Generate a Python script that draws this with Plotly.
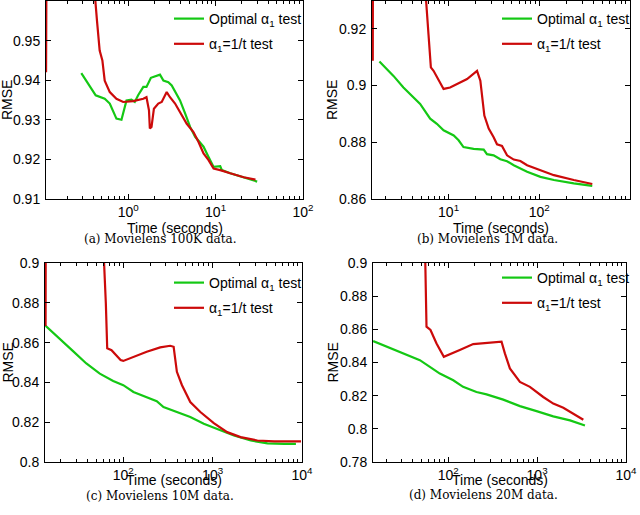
import plotly.graph_objects as go

# (a) Movielens 100K
a_opt_t = [0.291, 0.425, 0.539, 0.616, 0.734, 0.838, 0.957, 1.09, 1.19, 1.30, 1.49, 1.62, 1.82, 2.31, 2.53,
           2.88, 3.15, 3.59, 3.92, 4.48, 5.11, 5.84, 7.28, 8.31, 9.49, 11.3, 11.8, 14.7, 22.9, 29.9]
a_opt_rmse = [0.9418, 0.9362, 0.9353, 0.9341, 0.9303, 0.9300, 0.9349, 0.9351, 0.9345, 0.9362, 0.9383, 0.9383,
              0.9406, 0.9414, 0.9399, 0.9395, 0.9387, 0.9366, 0.9349, 0.9316, 0.9282, 0.9257, 0.9232, 0.9206,
              0.9181, 0.9183, 0.9173, 0.9165, 0.9152, 0.9144]
a_inv_t = [0.115, 0.117, 0.40, 0.421, 0.440, 0.472, 0.507, 0.539, 0.616, 0.734, 0.877, 1.14, 1.49, 1.62, 1.73,
           1.77, 1.85, 1.97, 2.21, 2.42, 2.76, 3.01, 3.44, 3.92, 4.68, 5.58, 6.38, 7.28, 8.31, 9.49, 11.3, 14.7,
           21.0, 28.6]
a_inv_rmse = [0.9420, 0.985, 0.985, 0.9601, 0.9550, 0.9475, 0.9450, 0.9399, 0.9370, 0.9353, 0.9345, 0.9347,
              0.9353, 0.9357, 0.9324, 0.9278, 0.9282, 0.9328, 0.9341, 0.9345, 0.9370, 0.9357, 0.9341, 0.9320,
              0.9290, 0.9269, 0.9244, 0.9215, 0.9198, 0.9177, 0.9173, 0.9165, 0.9155, 0.9149]

# (b) Movielens 1M
b_opt_t = [1.73, 2.47, 3.18, 4.86, 6.27, 7.43, 8.81, 11.4, 12.9, 14.6, 18.9, 24.4, 26.5, 31.4, 37.2, 44.1,
           52.3, 73.4, 103, 145, 240, 384]
b_opt_rmse = [0.9085, 0.9034, 0.8993, 0.8935, 0.8883, 0.8865, 0.8842, 0.8824, 0.8807, 0.8783, 0.8777, 0.8774,
              0.8758, 0.8754, 0.8740, 0.8733, 0.8719, 0.8696, 0.8678, 0.8667, 0.8655, 0.8646]
b_inv_t = [1.46, 1.47, 5.5, 5.66, 6.01, 6.38, 6.83, 8.81, 10.4, 16.0, 20.6, 22.4, 24.8, 27.7, 31.4, 34.2,
           38.8, 44.1, 52.3, 61.9, 73.4, 103, 145, 240, 384]
b_inv_rmse = [0.9087, 0.96, 0.96, 0.9297, 0.9180, 0.9064, 0.9052, 0.8988, 0.8993, 0.9023, 0.9052, 0.9017,
              0.8894, 0.8848, 0.8818, 0.8793, 0.8787, 0.8754, 0.8739, 0.8734, 0.8719, 0.8702, 0.8684, 0.8667,
              0.8653]

# (c) Movielens 10M
c_opt_t = [13.5, 19.4, 27.4, 38.6, 54.6, 77.1, 100, 130, 183, 237, 282, 398, 562, 796, 1124, 1730, 2667,
           4111, 6324, 8551]
c_opt_rmse = [0.8684, 0.8621, 0.8557, 0.8495, 0.8444, 0.8407, 0.8386, 0.8352, 0.8327, 0.8306, 0.8276, 0.8251,
              0.8226, 0.8192, 0.8167, 0.8133, 0.8108, 0.8094, 0.8091, 0.8091]
c_inv_t = [13.5, 13.6, 58, 60.5, 63.8, 66.1, 73.9, 80.6, 93.3, 100, 130, 183, 259, 335, 366, 398, 454, 562,
           729, 1030, 1455, 2055, 3168, 4884, 9750]
c_inv_rmse = [0.8684, 0.95, 0.95, 0.9034, 0.8798, 0.8571, 0.8562, 0.8545, 0.8512, 0.8508, 0.8529, 0.8554,
              0.8576, 0.8584, 0.8579, 0.8453, 0.8386, 0.8301, 0.8251, 0.8195, 0.8150, 0.8125, 0.8108, 0.8104,
              0.8104]

# (d) Movielens 20M
d_opt_t = [14.3, 20.2, 31.1, 48.0, 62.2, 80.5, 114, 147, 208, 270, 416, 641, 986, 1520, 2344, 3452]
d_opt_rmse = [0.8529, 0.8495, 0.8455, 0.8414, 0.8374, 0.8333, 0.8293, 0.8253, 0.8222, 0.8208, 0.8176, 0.8137,
              0.8107, 0.8075, 0.8051, 0.8020]
d_inv_t = [53.5, 54.6, 55.6, 57.0, 63.2, 73.9, 89.3, 100, 135, 191, 270, 398, 434, 494, 641, 830, 1172, 1520,
           1972, 2554, 3311]
d_inv_rmse = [0.94, 0.9040, 0.8838, 0.8616, 0.8596, 0.8515, 0.8434, 0.8444, 0.8475, 0.8511, 0.8519, 0.8525,
              0.8455, 0.8364, 0.8283, 0.8253, 0.8192, 0.8152, 0.8127, 0.8091, 0.8055]

captions = ["(a) Movielens 100K data.", "(b) Movielens 1M data.",
            "(c) Movielens 10M data.", "(d) Movielens 20M data."]
x_decades = [[0, 1, 2], [1, 2, 3], [2, 3, 4], [2, 3, 4]]
y_ticks = [[0.91, 0.92, 0.93, 0.94, 0.95], [0.86, 0.88, 0.90, 0.92],
           [0.80, 0.82, 0.84, 0.86, 0.88, 0.90], [0.78, 0.80, 0.82, 0.84, 0.86, 0.88, 0.90]]
y_text = [["0.91", "0.92", "0.93", "0.94", "0.95"], ["0.86", "0.88", "0.9", "0.92"],
          ["0.8", "0.82", "0.84", "0.86", "0.88", "0.9"], ["0.78", "0.8", "0.82", "0.84", "0.86", "0.88", "0.9"]]

series = [(a_opt_t, a_opt_rmse, a_inv_t, a_inv_rmse),
          (b_opt_t, b_opt_rmse, b_inv_t, b_inv_rmse),
          (c_opt_t, c_opt_rmse, c_inv_t, c_inv_rmse),
          (d_opt_t, d_opt_rmse, d_inv_t, d_inv_rmse)]

# layout geometry (pixels in a 640x515 page)
W, H = 640, 515
x_px = [(46, 303), (372, 630), (45, 302), (373, 626)]
y_px = [(1, 199), (1, 199), (263, 462), (263, 462)]
x_ranges = [[-0.94, 2], [0.156, 3], [1.124, 4], [1.154, 4]]
y_ranges = [[0.91, 0.96], [0.86, 0.9298], [0.80, 0.90], [0.78, 0.90]]
legend_pos = [(169, 3), (497, 3), (169, 267), (497, 262)]
caption_pos = [(160, 239), (487, 239), (160, 496), (483, 495)]
xtitle_y = [228, 228, 480, 480]
ytitle_x = [7, 332, 7, 332]

GREEN = "rgb(20,200,20)"
RED = "rgb(204,10,10)"
AX_FONT = dict(family="Liberation Sans, Arial", size=14, color="black")

fig = go.Figure()
layout = dict(width=W, height=H, margin=dict(l=0, r=0, t=0, b=0, autoexpand=False),
              paper_bgcolor="white", plot_bgcolor="white", showlegend=True, annotations=[])

for i, (ot, orm, it, irm) in enumerate(series):
    n = "" if i == 0 else str(i + 1)
    leg = "legend" if i == 0 else f"legend{i + 1}"
    fig.add_trace(go.Scatter(x=ot, y=orm, mode="lines", line=dict(color=GREEN, width=2.2),
                             name="Optimal α<sub>1</sub> test", xaxis="x" + n, yaxis="y" + n,
                             legend=leg, legendgroup=f"o{i}"))
    fig.add_trace(go.Scatter(x=it, y=irm, mode="lines", line=dict(color=RED, width=2.2),
                             name="α<sub>1</sub>=1/t test", xaxis="x" + n, yaxis="y" + n,
                             legend=leg, legendgroup=f"r{i}"))

    x0, x1 = x_px[i]
    yt, yb = y_px[i]
    minor_vals = [m * 10 ** d for d in range(-1, 4) for m in range(2, 10)]
    layout["xaxis" + n] = dict(
        type="log", domain=[x0 / W, x1 / W], range=x_ranges[i], anchor="y" + n,
        tickmode="array", tickvals=[10 ** d for d in x_decades[i]],
        ticktext=[f"10<sup>{d}</sup>" for d in x_decades[i]],
        ticks="inside", ticklen=5, tickcolor="black", showline=True, linecolor="black",
        linewidth=1, mirror="ticks", showgrid=False, zeroline=False, tickfont=AX_FONT,
        automargin=False,
        minor=dict(tickmode="array", tickvals=minor_vals, ticks="inside", ticklen=3,
                   tickcolor="black", showgrid=False))
    layout["yaxis" + n] = dict(
        domain=[1 - yb / H, 1 - yt / H], range=y_ranges[i], anchor="x" + n,
        tickmode="array", tickvals=y_ticks[i], ticktext=y_text[i], ticklabelstandoff=2,
        ticks="inside", ticklen=5, tickcolor="black", showline=True, linecolor="black",
        linewidth=1, mirror="ticks", showgrid=False, zeroline=False, tickfont=AX_FONT,
        automargin=False)
    lx, ly = legend_pos[i]
    layout[leg] = dict(x=lx / W, y=1 - ly / H, xanchor="left", yanchor="top",
                       bgcolor="rgba(0,0,0,0)", borderwidth=0, tracegroupgap=4,
                       font=dict(family="Liberation Sans, Arial", size=14, color="black"))

    layout["annotations"].append(dict(
        text="Time (seconds)", x=(x0 + x1) / 2 / W, y=1 - xtitle_y[i] / H, xref="paper", yref="paper",
        showarrow=False, xanchor="center", yanchor="middle", font=AX_FONT))
    layout["annotations"].append(dict(
        text="RMSE", x=ytitle_x[i] / W, y=1 - (yt + yb) / 2 / H, xref="paper", yref="paper",
        showarrow=False, xanchor="center", yanchor="middle", textangle=-90, font=AX_FONT))
    cx, cy = caption_pos[i]
    layout["annotations"].append(dict(
        text=captions[i], x=cx / W, y=1 - cy / H, xref="paper", yref="paper",
        showarrow=False, xanchor="center", yanchor="middle",
        font=dict(family="DejaVu Serif", size=12, color="black")))

fig.update_layout(**layout)
# drop the default 8px page margin so the figure sits at the window's corner
fig.write_html("out.html", config={"displayModeBar": False},
               post_script="document.body.style.margin='0';")
